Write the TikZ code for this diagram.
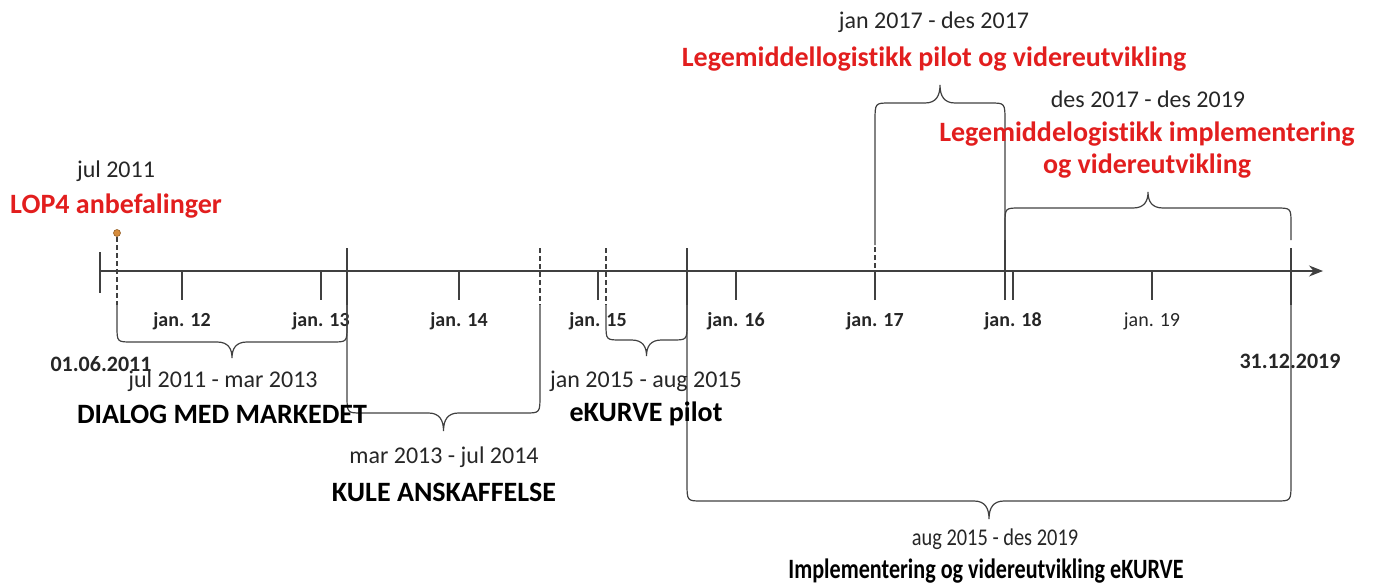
\documentclass[tikz,border=0pt]{standalone}
\usepackage{fontspec}
\setmainfont{Carlito}[RawFeature=-liga]
\usetikzlibrary{arrows.meta}
\definecolor{lopred}{RGB}{226,30,30}
\definecolor{axisgray}{RGB}{64,64,64}
\definecolor{dotorange}{RGB}{214,140,60}

% brace: x1, x2, end of legs, brace line, tip depth (signed)
\newcommand{\spanbrace}[5]{%
  \draw[timeline] (#1,#3) -- (#1,{#4-(#5)})
    .. controls (#1,#4) .. ({#1+15},#4)
    -- ({(#1+#2)/2-15},#4)
    .. controls ({(#1+#2)/2-4},#4) and ({(#1+#2)/2},{#4+0.4*(#5)}) .. ({(#1+#2)/2},{#4+(#5)})
    .. controls ({(#1+#2)/2},{#4+0.4*(#5)}) and ({(#1+#2)/2+4},#4) .. ({(#1+#2)/2+15},#4)
    -- ({#2-15},#4) .. controls (#2,#4) .. (#2,{#4-(#5)}) -- (#2,#3);}

\begin{document}
\begin{tikzpicture}[
    x=0.5pt, y=-0.5pt,
    timeline/.style={draw=axisgray, line width=0.6pt},
    dashline/.style={timeline, dash pattern=on 2.5pt off 1.5pt},
    ticklabel/.style={inner sep=0pt, font=\bfseries\fontsize{10}{12}\selectfont, text=black!85},
    period/.style={inner sep=0pt, font=\fontsize{12}{14}\selectfont, text=black!85},
    phase/.style={inner sep=0pt, font=\bfseries\fontsize{14}{17}\selectfont, text=black},
    redphase/.style={phase, text=lopred}
  ]
  \useasboundingbox (0,0) rectangle (1374,583);

  \coordinate (start) at (100,271);
  \coordinate (end) at (1323,271);
  \draw[timeline, -{Stealth[length=7pt,width=5.5pt]}] (start) -- (end);

  \foreach \x/\yr in {182/12,321/13,459/14,598/15,736/16,875/17,1013/18} {
    \draw[timeline] (\x,271) -- (\x,300);
    \node[ticklabel] (jan\yr) at (\x,321) {jan. \yr};
  }
  \draw[timeline] (1152,271) -- (1152,300);
  \node[ticklabel, font=\fontsize{10}{12}\selectfont] (jan19) at (1152,321) {jan. 19};

  % period limits
  \draw[timeline] (100,252) -- (100,293);
  \draw[dashline] (117,237) -- (117,305);
  \draw[timeline] (347,248) -- (347,305);
  \draw[dashline] (540,248) -- (540,305);
  \draw[dashline] (606,248) -- (606,305);
  \draw[timeline] (687,248) -- (687,305);
  \draw[dashline] (875,300) -- (875,245);
  \draw[timeline] (1005,300) -- (1005,240);
  \draw[timeline] (1291,248) -- (1291,305);

  \spanbrace{117}{347}{305}{342}{16}
  \spanbrace{347}{540}{305}{413}{18}
  \spanbrace{606}{687}{305}{340}{16}
  \spanbrace{687}{1291}{305}{501}{18}
  \spanbrace{875}{1005}{245}{103}{-18}
  \spanbrace{1005}{1291}{240}{208}{-16}

  \node[circle, fill=dotorange, draw=dotorange!70!black, line width=0.3pt,
        inner sep=0pt, minimum size=3.5pt] (lopdot) at (117,233) {};

  \node[ticklabel, font=\bfseries\fontsize{11}{13}\selectfont] (startdate) at (101,364) {01.06.2011};
  \node[ticklabel, font=\bfseries\fontsize{11}{13}\selectfont] (enddate) at (1290,361) {31.12.2019};

  \node[period] (lopdate) at (116,171) {jul 2011};
  \node[redphase] (lop) at (116,206) {LOP4 anbefalinger};
  \node[period] (dialogdate) at (223,381) {jul 2011 - mar 2013};
  \node[phase] (dialog) at (222,414) {DIALOG MED MARKEDET};
  \node[period] (kuledate) at (444,457) {mar 2013 - jul 2014};
  \node[phase] (kule) at (444,492) {KULE ANSKAFFELSE};
  \node[period] (pilotdate) at (646,381) {jan 2015 - aug 2015};
  \node[phase] (pilot) at (646,414) {eKURVE pilot};
  \node[period] (impldate) at (995,539) {\scalebox{0.85}[1]{aug 2015 - des 2019}};
  \node[phase] (impl) at (986,571) {\scalebox{0.79}[1]{Implementering og videreutvikling eKURVE}};
  \node[period] (logpilotdate) at (934,22) {jan 2017 - des 2017};
  \node[redphase] (logpilot) at (934,59) {Legemiddellogistikk pilot og videreutvikling};
  \node[period] (logimpldate) at (1148,99) {des 2017 - des 2019};
  \node[redphase, align=center] (logimpl) at (1147,150)
    {Legemiddelogistikk implementering\\[-1pt]og videreutvikling};
\end{tikzpicture}
\end{document}
